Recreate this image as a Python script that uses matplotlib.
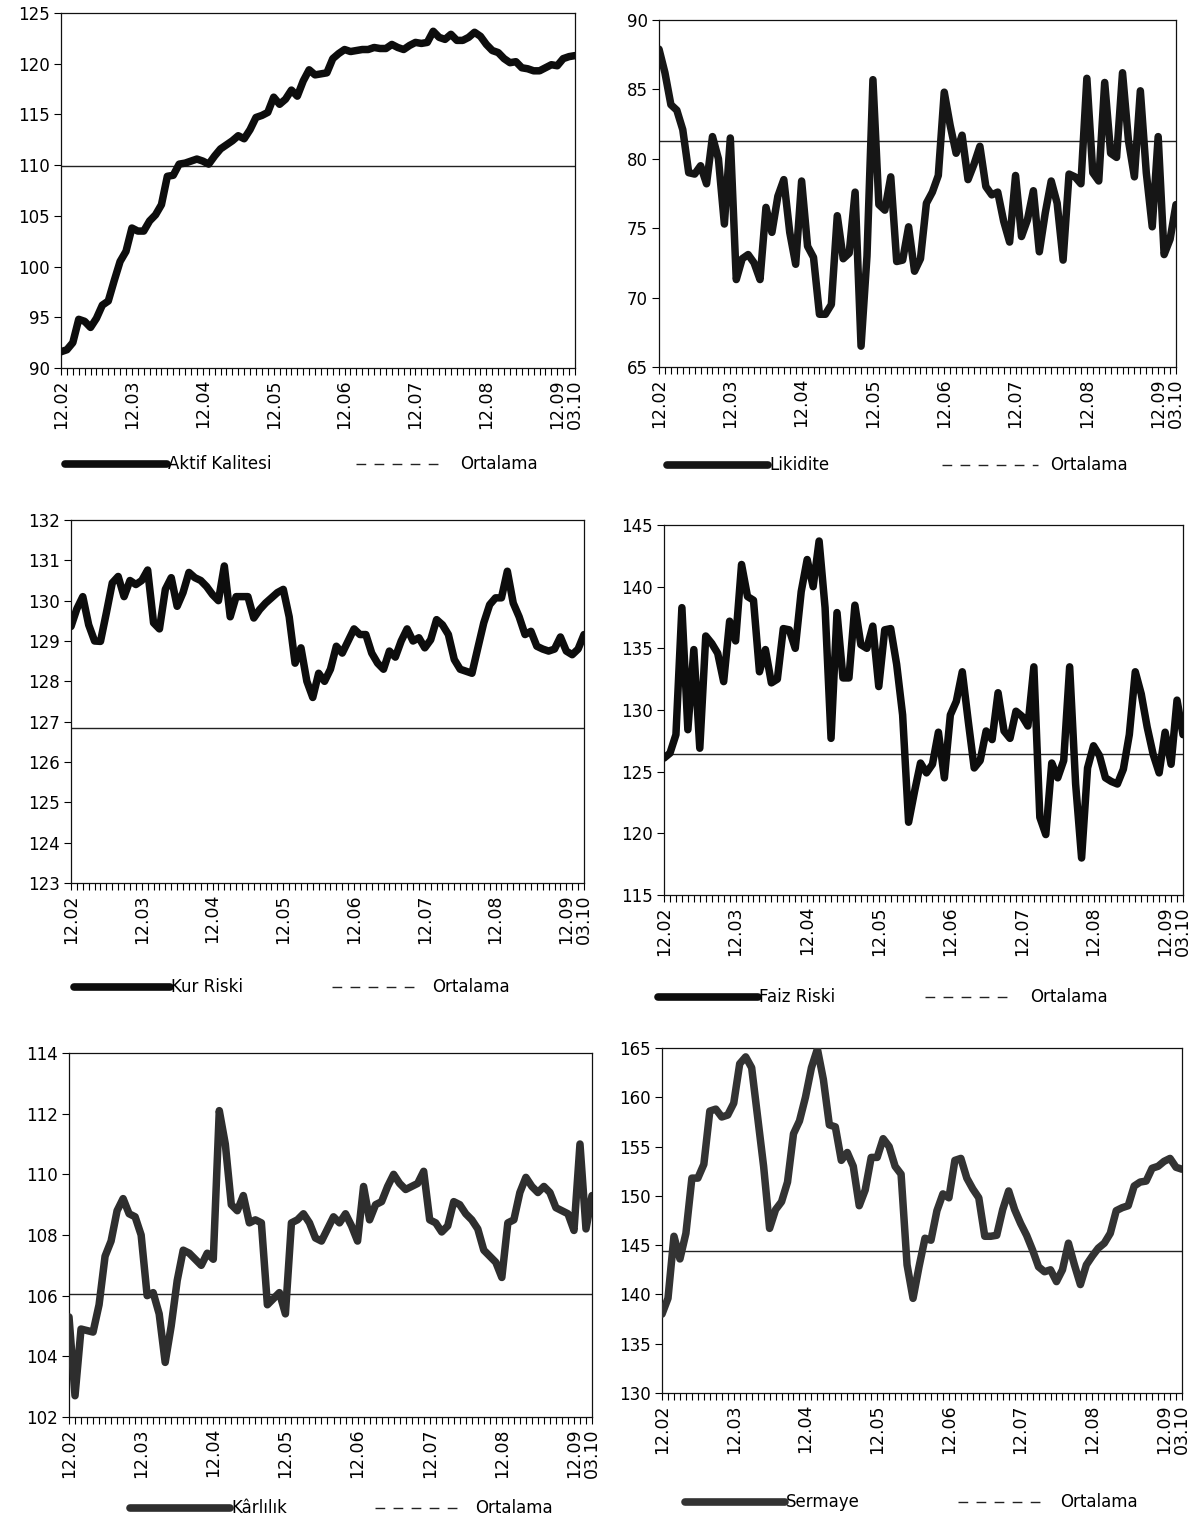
import numpy as np
import matplotlib
matplotlib.use("Agg")
import matplotlib.pyplot as plt
from matplotlib.lines import Line2D

plt.rcParams['font.family'] = ['DejaVu Sans']

# ---------------- data ----------------
months = ["12.02", "12.03", "12.04", "12.05", "12.06", "12.07", "12.08", "12.09", "03.10"]
month_idx = [0, 12, 24, 36, 48, 60, 72, 84, 87]

aktif = [91.6, 91.8, 92.5, 94.8, 94.6, 94.0, 94.9, 96.2, 96.6, 98.6, 100.5, 101.5,
         103.8, 103.5, 103.5, 104.5, 105.1, 106.1, 108.9, 109.0, 110.1, 110.2, 110.4, 110.6,
         110.4, 110.1, 110.9, 111.6, 112.0, 112.4, 112.9, 112.6, 113.5, 114.7, 114.9, 115.2,
         116.7, 116.0, 116.5, 117.4, 116.8, 118.3, 119.4, 118.9, 119.0, 119.1, 120.5, 121.0,
         121.4, 121.2, 121.3, 121.4, 121.4, 121.6, 121.5, 121.5, 121.9, 121.6, 121.4, 121.8,
         122.1, 122.0, 122.1, 123.2, 122.6, 122.4, 122.9, 122.3, 122.3, 122.6, 123.1, 122.7,
         121.9, 121.3, 121.1, 120.5, 120.1, 120.2, 119.6, 119.5, 119.3, 119.3, 119.6, 119.9,
         119.8, 120.5, 120.7, 120.8]

likidite = [87.9, 86.2, 83.9, 83.5, 82.1, 79.0, 78.9, 79.5, 78.2, 81.6, 80.0, 75.3,
            81.5, 71.3, 72.8, 73.1, 72.5, 71.3, 76.5, 74.7, 77.3, 78.5, 74.7, 72.4,
            78.4, 73.7, 72.9, 68.8, 68.8, 69.5, 75.9, 72.8, 73.2, 77.6, 66.5, 73.0,
            85.7, 76.7, 76.3, 78.7, 72.6, 72.7, 75.1, 71.9, 72.8, 76.8, 77.6, 78.8,
            84.8, 82.4, 80.4, 81.7, 78.5, 79.6, 80.9, 78.0, 77.4, 77.6, 75.5, 74.0,
            78.8, 74.4, 75.6, 77.7, 73.3, 76.1, 78.4, 76.8, 72.7, 78.9, 78.7, 78.2,
            85.8, 79.0, 78.4, 85.5, 80.4, 80.1, 86.2, 81.3, 78.7, 84.9, 79.0, 75.1,
            81.6, 73.1, 74.2, 76.7]

kur = [129.36, 129.8, 130.1, 129.4, 129.0, 128.99, 129.7, 130.44, 130.6, 130.1, 130.5, 130.4,
       130.5, 130.76, 129.45, 129.3, 130.28, 130.57, 129.86, 130.2, 130.7, 130.57, 130.5, 130.35,
       130.15, 130.0, 130.86, 129.6, 130.1, 130.1, 130.1, 129.57, 129.78, 129.94, 130.07, 130.2,
       130.28, 129.6, 128.45, 128.83, 128.0, 127.6, 128.2, 128.0, 128.3, 128.87, 128.7, 129.0,
       129.3, 129.16, 129.16, 128.7, 128.45, 128.3, 128.75, 128.6, 129.0, 129.3, 129.0, 129.08,
       128.83, 129.03, 129.53, 129.4, 129.16, 128.54, 128.3, 128.25, 128.2, 128.83, 129.45, 129.9,
       130.07, 130.07, 130.73, 129.94, 129.6, 129.16, 129.24, 128.87, 128.8, 128.75, 128.8, 129.1,
       128.75, 128.66, 128.8, 129.16]

faiz = [126.1, 126.5, 128.0, 138.3, 128.4, 134.9, 126.9, 136.0, 135.4, 134.6, 132.3, 137.2,
        135.6, 141.8, 139.2, 138.9, 133.1, 134.9, 132.2, 132.5, 136.6, 136.5, 135.0, 139.6,
        142.2, 140.0, 143.7, 138.3, 127.7, 137.9, 132.6, 132.6, 138.5, 135.3, 135.0, 136.8,
        131.9, 136.5, 136.6, 133.7, 129.6, 120.9, 123.4, 125.7, 124.9, 125.6, 128.2, 124.5,
        129.6, 130.7, 133.1, 129.1, 125.3, 125.9, 128.3, 127.6, 131.4, 128.3, 127.7, 129.9,
        129.5, 128.7, 133.5, 121.3, 119.9, 125.7, 124.5, 125.9, 133.5, 124.0, 118.0, 125.3,
        127.1, 126.3, 124.5, 124.2, 124.0, 125.2, 128.0, 133.1, 131.3, 128.6, 126.4, 124.9,
        128.2, 125.6, 130.8, 128.0]

karlilik = [105.3, 102.7, 104.9, 104.85, 104.8, 105.7, 107.3, 107.8, 108.8, 109.2, 108.7, 108.6,
            108.0, 106.0, 106.1, 105.4, 103.8, 105.0, 106.5, 107.5, 107.4, 107.2, 107.0, 107.4,
            107.2, 112.1, 111.0, 109.0, 108.8, 109.3, 108.4, 108.5, 108.4, 105.7, 105.9, 106.1,
            105.4, 108.4, 108.5, 108.7, 108.4, 107.9, 107.8, 108.2, 108.6, 108.4, 108.7, 108.3,
            107.8, 109.6, 108.5, 109.0, 109.1, 109.6, 110.0, 109.7, 109.5, 109.6, 109.7, 110.1,
            108.5, 108.4, 108.1, 108.3, 109.1, 109.0, 108.7, 108.5, 108.2, 107.5, 107.3, 107.1,
            106.6, 108.4, 108.5, 109.4, 109.9, 109.6, 109.4, 109.6, 109.4, 108.9, 108.8, 108.7,
            108.15, 111.0, 108.2, 109.3]

sermaye = [138.0, 139.6, 145.9, 143.6, 146.2, 151.8, 151.8, 153.2, 158.6, 158.8, 158.0, 158.2,
           159.4, 163.4, 164.1, 163.0, 158.0, 153.0, 146.7, 148.6, 149.4, 151.4, 156.3, 157.6,
           160.0, 163.0, 164.9, 161.8, 157.2, 157.0, 153.6, 154.4, 153.0, 149.0, 150.6, 153.9,
           153.9, 155.8, 155.0, 153.0, 152.2, 143.0, 139.6, 142.8, 145.7, 145.5, 148.5, 150.2,
           149.8, 153.6, 153.8, 151.8, 150.7, 149.8, 145.9, 145.9, 146.0, 148.6, 150.5, 148.6,
           147.2, 146.0, 144.5, 142.8, 142.3, 142.5, 141.3, 142.5, 145.2, 143.0, 141.0, 143.0,
           143.9, 144.7, 145.2, 146.2, 148.5, 148.8, 149.0, 151.0, 151.4, 151.5, 152.8, 153.0,
           153.5, 153.8, 152.9, 152.7]

names = ["Aktif Kalitesi", "Likidite", "Kur Riski", "Faiz Riski", "Kârlılık", "Sermaye"]
series = [aktif, likidite, kur, faiz, karlilik, sermaye]
averages = [109.9, 81.3, 126.85, 126.45, 106.05, 144.45]
ylims = [(90, 125), (65, 90), (123, 132), (115, 145), (102, 114), (130, 165)]
ysteps = [5, 5, 1, 5, 2, 5]
line_colors = ["#0d0d0d", "#161616", "#0d0d0d", "#0d0d0d", "#2e2e2e", "#333333"]

# ---------------- layout (pixels in a 1197x1521 canvas) ----------------
W, H = 1197, 1521
boxes = [  # left, right, top, bottom
    (61, 575, 13, 368),
    (659, 1176, 20, 367),
    (71, 584, 520, 883),
    (664, 1183, 525, 895),
    (69, 592, 1053, 1417),
    (662, 1182, 1048, 1393),
]
legends = [  # thick x0, x1, y, dashed x0, x1, text2 x
    (65, 167, 464, 356, 445, 460),
    (667, 768, 465, 942, 1038, 1050),
    (74, 170, 987, 332, 420, 432),
    (658, 758, 997, 925, 1015, 1030),
    (130, 230, 1508, 375, 462, 475),
    (685, 785, 1502, 958, 1048, 1060),
]

fig = plt.figure(figsize=(W / 100, H / 100), dpi=100)
fig.patch.set_facecolor("white")

def fx(x):
    return x / W

def fy(y):
    return 1 - y / H

for i in range(6):
    l, r, t, b = boxes[i]
    ax = fig.add_axes([fx(l), fy(b), (r - l) / W, (b - t) / H])
    vals = series[i]
    x = np.arange(len(vals))
    ax.plot(x, vals, color=line_colors[i], lw=5.4, solid_joinstyle="round",
            solid_capstyle="round", zorder=3)
    ax.axhline(averages[i], color="#222222", lw=1.0, zorder=2)
    ax.set_xlim(0, 87)
    ax.set_ylim(*ylims[i])
    lo, hi = ylims[i]
    ax.set_yticks(np.arange(lo, hi + 0.001, ysteps[i]))
    ax.set_yticklabels([f"{v:g}" for v in np.arange(lo, hi + 0.001, ysteps[i])], fontsize=12)
    labels = [""] * 88
    for m, k in zip(months, month_idx):
        labels[k] = m
    ax.set_xticks(np.arange(88))
    ax.set_xticklabels(labels, rotation=90, fontsize=12.5, va="top", ha="center")
    ax.tick_params(axis="x", direction="out", length=5, width=0.8, pad=3)
    ax.tick_params(axis="y", direction="out", length=5, width=0.8, pad=3)
    for s in ax.spines.values():
        s.set_linewidth(0.9)
        s.set_color("#111111")
    ax.set_facecolor("white")

    # legend
    tx0, tx1, ly, dx0, dx1, ox = legends[i]
    fig.add_artist(Line2D([fx(tx0), fx(tx1)], [fy(ly), fy(ly)], transform=fig.transFigure,
                          color=line_colors[i], lw=5.5, solid_capstyle="round"))
    fig.text(fx(tx1 + 1), fy(ly), names[i], fontsize=12, va="center", ha="left")
    fig.add_artist(Line2D([fx(dx0), fx(dx1)], [fy(ly), fy(ly)], transform=fig.transFigure,
                          color="#222222", lw=1.0, linestyle=(0, (7, 6))))
    fig.text(fx(ox), fy(ly), "Ortalama", fontsize=12, va="center", ha="left")

fig.savefig("out.png", dpi=100, facecolor="white")
